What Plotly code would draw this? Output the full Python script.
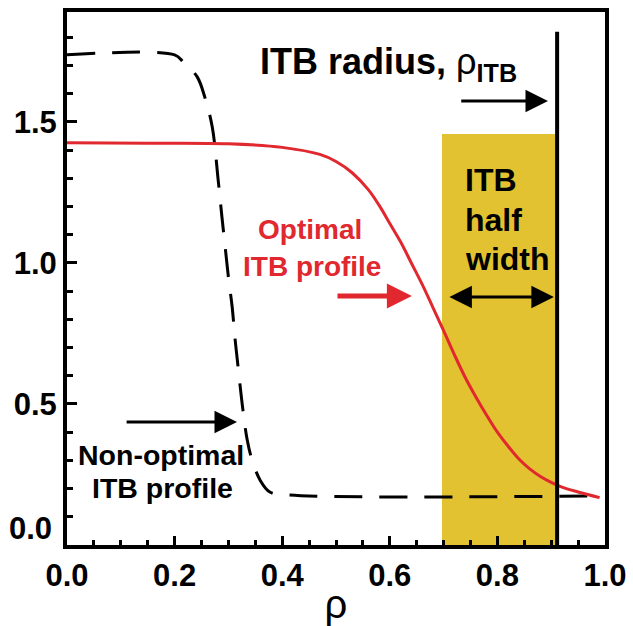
import plotly.graph_objects as go

# ---- data ----
rho_opt = [0.0, 0.15, 0.30, 0.40, 0.47, 0.50, 0.53, 0.56, 0.58, 0.60, 0.62, 0.64, 0.66, 0.68, 0.70,
           0.72, 0.74, 0.76, 0.78, 0.80, 0.82, 0.84, 0.86, 0.88, 0.90, 0.92, 0.95, 0.99]
val_opt = [1.426, 1.425, 1.423, 1.41, 1.385, 1.36, 1.32, 1.26, 1.205, 1.14, 1.075, 1.0, 0.925, 0.843, 0.76,
           0.675, 0.595, 0.525, 0.46, 0.40, 0.35, 0.305, 0.27, 0.243, 0.222, 0.205, 0.188, 0.168]

rho_non = [0.0, 0.20, 0.216, 0.242, 0.256, 0.270, 0.281, 0.288, 0.294, 0.300, 0.307, 0.312, 0.318, 0.327, 0.335, 0.344, 0.359, 0.377, 0.414, 0.99]
val_non = [1.738, 1.738, 1.713, 1.66, 1.589, 1.482, 1.294, 1.163, 1.057, 0.95, 0.844, 0.738, 0.631, 0.479, 0.372, 0.301, 0.230, 0.188, 0.177, 0.174]

rho_itb = 0.911          # ITB radius
itb_line_top = 1.82
band_left = 0.697        # ITB half-width band
band_top = 1.457

x_ticks = [0.0, 0.2, 0.4, 0.6, 0.8, 1.0]
x_ticktext = ["0.0", "0.2", "0.4", "0.6", "0.8", "1.0"]
y_ticks = [0.0, 0.5, 1.0, 1.5]
y_ticktext = ["", "0.5", "1.0", "1.5"]

FONT = "Liberation Sans, Arial, sans-serif"
RED = "#E0282E"
YEL = "#E2C231"

fig = go.Figure()

fig.add_shape(type="rect", xref="x", yref="y", x0=band_left, x1=rho_itb, y0=-0.01, y1=band_top,
              fillcolor=YEL, line=dict(width=0), layer="below")

fig.add_trace(go.Scatter(x=rho_non, y=val_non, mode="lines", line_shape="spline",
                         line=dict(color="black", width=3, dash="28px,17px"), showlegend=False))
fig.add_trace(go.Scatter(x=rho_opt, y=val_opt, mode="lines", line_shape="spline",
                         line=dict(color=RED, width=3), showlegend=False))

fig.add_shape(type="line", xref="x", yref="y", x0=rho_itb, x1=rho_itb, y0=0, y1=itb_line_top,
              line=dict(color="black", width=4))

def txt(x, y, s, size, color="black", xanchor="center"):
    fig.add_annotation(x=x, y=y, xref="x", yref="y", text=s, showarrow=False,
                       xanchor=xanchor, yanchor="middle",
                       font=dict(family=FONT, size=size, color=color))

def arrow(x_tail, x_head, y, color="black", width=3, size=1.5, both=False):
    fig.add_annotation(x=x_head, y=y, ax=x_tail, ay=y, xref="x", yref="y", axref="x", ayref="y",
                       text="", showarrow=True, arrowhead=2, arrowsize=size, arrowwidth=width,
                       arrowcolor=color, standoff=0, startstandoff=0,
                       startarrowhead=2, startarrowsize=size,
                       arrowside="end+start" if both else "end")

txt(0.597, 1.705, "<b>ITB radius, </b>ρ<sub><b>ITB</b></sub>", 36)
arrow(0.73, 0.894, 1.574)

txt(0.452, 1.117, "<b>Optimal</b>", 28, RED)
txt(0.455, 0.989, "<b>ITB profile</b>", 28, RED)
arrow(0.50, 0.641, 0.883, color=RED, width=5, size=1.0)

txt(0.736, 1.294, "<b>ITB</b>", 32, xanchor="left")
txt(0.736, 1.152, "<b>half</b>", 32, xanchor="left")
txt(0.736, 1.014, "<b>width</b>", 32, xanchor="left")
arrow(0.708, 0.905, 0.879, both=True)

txt(0.175, 0.319, "<b>Non-optimal</b>", 28.5)
txt(0.178, 0.202, "<b>ITB profile</b>", 28.5)
arrow(0.108, 0.316, 0.436)

# y tick label 0.0 sits slightly above the axis in the reference
fig.add_annotation(x=0, y=0.06, xref="paper", yref="y", text="<b>0.0</b>", showarrow=False,
                   xanchor="right", yanchor="middle", xshift=-13,
                   font=dict(family=FONT, size=31, color="black"))

axis_common = dict(showgrid=False, zeroline=False, showline=True, linecolor="black", linewidth=4,
                   mirror=True, ticks="inside", tickcolor="black", tickwidth=3, automargin=False,
                   tickfont=dict(family=FONT, size=31, color="black", weight="bold"))

fig.update_xaxes(range=[0, 1.0], tickvals=x_ticks, ticktext=x_ticktext, ticklen=9,
                 minor=dict(dtick=0.05, ticklen=5, tickwidth=2.5, ticks="inside", tickcolor="black"),
                 title=dict(text="ρ", font=dict(family=FONT, size=40, color="black"), standoff=4),
                 **axis_common)
fig.update_yaxes(range=[0, 1.89], tickvals=y_ticks, ticktext=y_ticktext, ticklen=10,
                 minor=dict(dtick=0.1, ticklen=6, tickwidth=2.5, ticks="inside", tickcolor="black"),
                 **axis_common)

fig.update_layout(width=633, height=626, margin=dict(l=67, r=28, t=12, b=81),
                  plot_bgcolor="white", paper_bgcolor="white")

fig.write_html("out.html")
